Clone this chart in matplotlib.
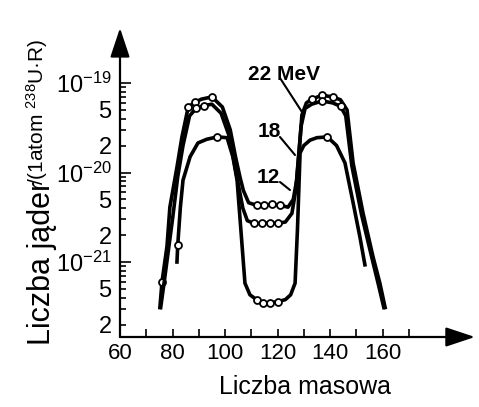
import matplotlib
matplotlib.use("Agg")
import math
import matplotlib.pyplot as plt
from matplotlib import font_manager
from matplotlib.ticker import FixedLocator, FuncFormatter

plt.rcParams['font.family'] = ['Liberation Sans', 'DejaVu Sans']
plt.rcParams['mathtext.fontset'] = 'custom'
plt.rcParams['mathtext.rm'] = 'Liberation Sans'
plt.rcParams['mathtext.default'] = 'regular'

try:
    font_manager.findfont('Liberation Sans Narrow', fallback_to_default=False)
    narrow = 'Liberation Sans Narrow'
except ValueError:
    narrow = None

# mass number / yield per atom U-238 per roentgen
a_22 = [75.2, 76, 77.9, 79, 81.7, 83.6, 86, 88.6, 91, 95, 99, 102, 104, 105.7, 107, 109,
        112, 115, 118, 121, 124, 126, 127.3, 128.3, 129.3, 131, 133, 137, 141, 144, 146.5,
        148.8, 152.6, 156.4, 159, 161]
y_22 = [3.1e-22, 6e-22, 1.5e-21, 4.1e-21, 1.15e-20, 2.5e-20, 5.4e-20, 6.1e-20, 6.6e-20, 7e-20,
        5.4e-20, 3e-20, 1.5e-20, 8.9e-21, 6.3e-21, 4.6e-21,
        4.3e-21, 4.3e-21, 4.4e-21, 4.3e-21, 4.1e-21, 5e-21, 8.2e-21, 1.8e-20, 4.4e-20, 6e-20,
        6.6e-20, 7.3e-20, 7e-20, 6.5e-20, 5e-20,
        1.28e-20, 3.5e-21, 1.14e-21, 5.8e-22, 3.1e-22]

a_18 = [75.5, 77, 78.5, 80, 82, 84, 86.5, 89, 92, 95, 98.5, 101.5, 103.5, 105.2, 106.8, 108.5,
        111, 114, 117, 120, 123, 125.5, 127, 128, 129, 130.5, 133, 137, 141, 144, 146,
        148.3, 152, 156, 158.5, 160.5]
y_18 = [3.1e-22, 6.5e-22, 1.4e-21, 3e-21, 9e-21, 2e-20, 4.3e-20, 5.2e-20, 5.6e-20, 5.8e-20,
        4.6e-20, 2.6e-20, 1.3e-20, 7e-21, 4e-21, 2.9e-21,
        2.7e-21, 2.7e-21, 2.75e-21, 2.7e-21, 2.8e-21, 3.5e-21, 6.5e-21, 1.5e-20, 3.3e-20, 5.2e-20,
        5.8e-20, 6.3e-20, 6e-20, 5.5e-20, 4.3e-20,
        1.2e-20, 3.4e-21, 1.1e-21, 5.5e-22, 3.1e-22]

a_12 = [81.7, 82, 83, 84, 86.7, 89.7, 93, 97, 100.8, 103, 104.6, 105.6, 107.6, 109.5, 112,
        114.5, 117, 120, 123, 125, 126.7, 127.6, 128.6, 130, 132.4, 135, 139, 142.5, 145.7,
        148.8, 151.4, 153.3]
y_12 = [1.0e-21, 1.55e-21, 4.1e-21, 8.2e-21, 1.5e-20, 2.14e-20, 2.35e-20, 2.5e-20, 2.45e-20,
        1.5e-20, 8.2e-21, 3.4e-21, 5.8e-22, 4.3e-22, 3.8e-22,
        3.5e-22, 3.5e-22, 3.6e-22, 3.8e-22, 4.3e-22, 5.8e-22, 2.3e-21, 1.65e-20, 2e-20, 2.3e-20,
        2.45e-20, 2.5e-20, 2e-20, 1.28e-20,
        4.6e-21, 1.9e-21, 9.3e-22]

# which points carry an open circle
marks_22 = [1, 6, 7, 9, 16, 17, 18, 19, 26, 27, 28]
marks_18 = [7, 8, 16, 17, 18, 19, 27, 29]
marks_12 = [1, 7, 14, 15, 16, 17, 26]

x_ticks = [60, 70, 80, 90, 100, 110, 120, 130, 140, 150, 160, 170]
x_labels = [60, 80, 100, 120, 140, 160]
decades = [-22, -21, -20]
y_lo, y_hi = 10 ** -21.838, 10 ** -18.385

fig = plt.figure(figsize=(4.79, 4.07), dpi=100)
W, H = 479, 407
ax = fig.add_axes([120 / W, 70 / H, 350 / W, 309 / H])

for a, y, m in ((a_22, y_22, marks_22), (a_18, y_18, marks_18), (a_12, y_12, marks_12)):
    ax.plot(a, y, color='black', lw=2.6, marker='o', markevery=m, ms=5,
            mfc='white', mec='black', mew=1.3, solid_joinstyle='round')

ax.set_yscale('log')
ax.set_xlim(60, 60 + 350 / 2.625)
ax.set_ylim(y_lo, y_hi)

for s in ax.spines.values():
    s.set_visible(False)

arrow = dict(arrowstyle='-|>,head_length=0.9,head_width=0.3', color='black',
             lw=1.6, mutation_scale=20, shrinkA=0, shrinkB=0)
ax.annotate('', xy=(1.014, 0), xytext=(0, 0), xycoords='axes fraction', arrowprops=arrow)
ax.annotate('', xy=(0, 1.0), xytext=(0, 0), xycoords='axes fraction', arrowprops=arrow)

ax.xaxis.set_major_locator(FixedLocator(x_ticks))
ax.xaxis.set_major_formatter(FuncFormatter(lambda v, p: '%d' % v if int(round(v)) in x_labels else ''))
ax.yaxis.set_major_locator(FixedLocator([10.0 ** e for e in (-21, -20, -19)]))
ax.yaxis.set_major_formatter(FuncFormatter(lambda v, p: '$10^{%d}$' % round(math.log10(v))))
minor = [m * 10.0 ** e for e in decades for m in range(2, 10) if m * 10.0 ** e > y_lo]
ax.yaxis.set_minor_locator(FixedLocator(minor))


def minor_fmt(v, p):
    lead = round(v / 10 ** math.floor(math.log10(v) + 1e-9))
    return '%d' % lead if lead in (2, 5) else ''


ax.yaxis.set_minor_formatter(FuncFormatter(minor_fmt))
ax.tick_params(axis='both', which='both', direction='in', width=1.2, colors='black')
ax.tick_params(axis='y', which='major', length=8, pad=6, labelsize=17)
ax.tick_params(axis='y', which='minor', length=4, pad=6, labelsize=17)
ax.tick_params(axis='x', which='major', length=6, pad=4, labelsize=16)
if narrow:
    for t in ax.get_xticklabels():
        t.set_fontfamily(narrow)
        t.set_fontsize(20)

fig.text(305 / W, 1 - 387 / H, 'Liczba masowa', fontsize=18, ha='center', va='center')
fig.text(50 / W, 1 - 345 / H, 'Liczba jąder', fontsize=22, rotation=90,
         rotation_mode='anchor', ha='left', va='baseline')
fig.text(44 / W, 1 - 185 / H, '/(1atom $^{238}$U·R)', fontsize=15, rotation=90,
         rotation_mode='anchor', ha='left', va='baseline')

lead = dict(arrowstyle='-', color='black', lw=1.5, shrinkA=0, shrinkB=0)
for txt, tx, ty, x0, y0, x1, y1 in (('22 MeV', 248, 80, 280, 78, 302, 112),
                                    ('18', 258, 137, 280, 137, 295, 155),
                                    ('12', 257, 183, 280, 182, 290, 190)):
    fig.text(tx / W, 1 - ty / H, txt, fontsize=15, fontweight='bold', ha='left', va='baseline')
    ax.annotate('', xy=(x1 / W, 1 - y1 / H), xytext=(x0 / W, 1 - y0 / H),
                xycoords='figure fraction', textcoords='figure fraction', arrowprops=lead)

fig.savefig('out.png', dpi=100)
